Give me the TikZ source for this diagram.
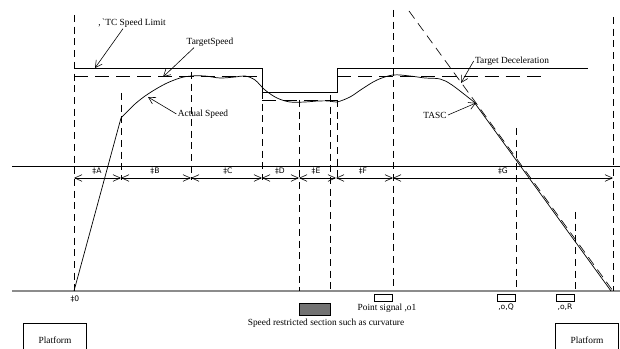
\documentclass[tikz,border=0pt]{standalone}
\usepackage{fontspec}
\setmainfont{Liberation Serif}
\newfontfamily\labfont{DejaVu Sans}
\usetikzlibrary{arrows.meta, positioning, calc}
\tikzset{
  axis/.style  = {line width=0.6pt, draw=black},
  grnd/.style  = {line width=1.3pt, draw=black!45},
  guide/.style = {dash pattern=on 6pt off 4pt, line width=0.55pt},
  lim/.style   = {line width=0.6pt},
  tgt/.style   = {dash pattern=on 12pt off 6pt, line width=0.6pt},
  decel/.style = {dash pattern=on 8pt off 5pt, line width=0.55pt},
  spd/.style   = {line width=0.6pt},
  note/.style  = {font=\footnotesize, inner sep=1pt},
  ptr/.style   = {-{Straight Barb[length=2mm, width=2.2mm]}, line width=0.5pt},
  dim/.style   = {{Straight Barb[length=2.2mm, width=2mm]}-{Straight Barb[length=2.2mm, width=2mm]},
                  line width=0.5pt},
  seg/.style   = {font=\labfont\fontsize{6.5}{7}\selectfont, inner sep=1pt},
  sig/.style   = {draw, fill=white, line width=0.5pt, minimum width=0.54cm,
                  minimum height=0.21cm, inner sep=0pt},
  restr/.style = {draw, fill=black!55, line width=0.5pt, minimum width=0.93cm,
                  minimum height=0.36cm, inner sep=0pt},
  plat/.style  = {draw, line width=0.6pt, font=\footnotesize, minimum width=1.9cm,
                  minimum height=1cm, inner sep=0pt},
}
\begin{document}
\begin{tikzpicture}[x=0.03cm, y=-0.03cm]
\useasboundingbox (0,0) rectangle (620,349);
% track lines
\draw[axis] (12,166) -- (620,166);
\draw[grnd] (12,291) -- (620,291);
% guide lines
\foreach \gx/\gt/\gb in {74/15/291, 121/93/180, 191/72/180, 262/92/180, 299/100/291,
    330/95/291, 337/100/180, 393/10/291, 516/128/291, 575/212/291, 613/17/291}
  \draw[guide] (\gx,\gt) -- (\gx,\gb);
% speed limit and target speed
\draw[lim] (74,68) -- (262,68) -- (262,92) -- (337,92) -- (337,68) -- (588,68);
\draw[tgt] (74,76) -- (262,76);
\draw[tgt] (262,100) -- (337,100);
\draw[tgt] (337,76) -- (541,76);
\draw[decel] (409,11) -- (613,291);
% actual speed
\draw[spd] (74,291) -- (121,118) -- plot[smooth, tension=0.55] coordinates {
    (121,118) (135,104) (148,94) (165,84) (180,78) (191,76) (205,76) (220,78)
    (235,77) (245,76) (255,80) (265,90) (277,98) (290,102) (305,102) (318,101)
    (330,101) (337,102) (350,97) (362,89) (377,80) (393,75) (410,76) (425,78)
    (440,79) (452,85) (474,102)} -- (611,291);
% section lengths
\foreach \da/\db in {74/121, 121/191, 191/262, 262/299, 299/336, 336/393, 393/613}
  \draw[dim] (\da,178) -- (\db,178);
\foreach \sx/\sl in {97/A, 155/B, 228/C, 280/D, 316/E, 363/F, 503/G}
  \node[seg] (seg\sl) at (\sx,171) {‡\sl};
% annotations
\node[note] (limtxt) at (132,23) {,\,\textasciigrave TC Speed Limit};
\coordinate (limpt) at (95,68);
\draw[ptr] ($(limtxt.south)+(-9,0)$) -- (limpt);
\node[note] (tgttxt) at (210,42) {TargetSpeed};
\coordinate (tgtpt) at (163,77);
\draw[ptr] ($(tgttxt.south)+(-16,0)$) -- (tgtpt);
\node[note] (acttxt) at (203,114) {Actual Speed};
\coordinate (actpt) at (148,97);
\draw[ptr] (acttxt.west) -- (actpt);
\node[note] (dectxt) at (512,61) {Target Deceleration};
\coordinate (decpt) at (461,83);
\draw[ptr] (dectxt.west) -- (decpt);
\node[note] (tasctxt) at (435,115) {TASC};
\coordinate (tascpt) at (476,103);
\draw[ptr] (tasctxt.east) -- (tascpt);
% wayside
\node[seg] (orig) at (75,299) {‡0};
\node[restr] (curve) at (314.5,309) {};
\node[note] (curvetxt) at (326,323) {Speed restricted section such as curvature};
\node[sig] (sig1) at (383,298) {};
\node[note] (sig1txt) at (387,308) {Point signal ,o1};
\node[sig] (sigQ) at (506,297.5) {};
\node[seg] (sigQtxt) at (506,307) {,o,Q};
\node[sig] (sigR) at (565.5,297.5) {};
\node[seg] (sigRtxt) at (565,307) {,o,R};
\node[plat] (platL) at (55,340) {Platform};
\node[plat] (platR) at (587,340) {Platform};
\end{tikzpicture}
\end{document}
